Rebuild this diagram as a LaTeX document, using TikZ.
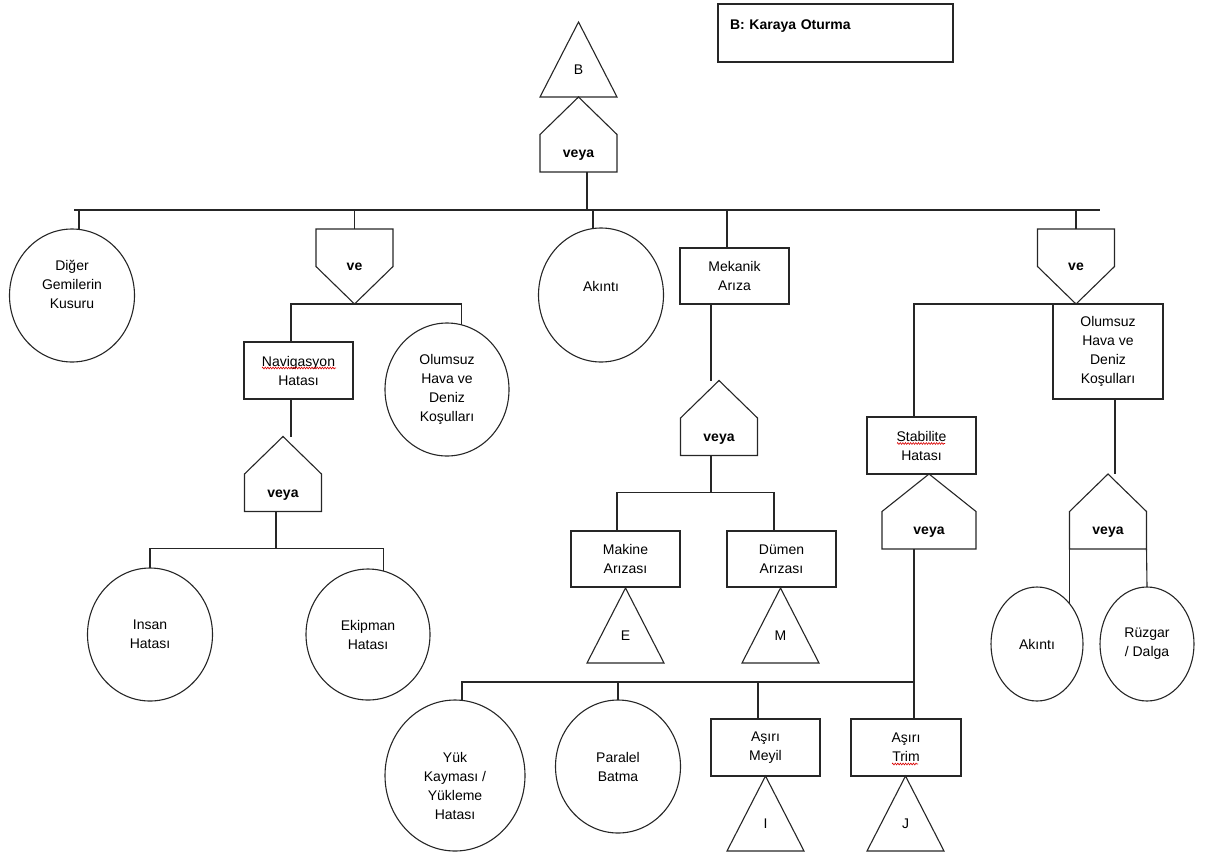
\documentclass[tikz,border=0pt]{standalone}
\usepackage{fontspec}
\setmainfont{Liberation Sans}
\usetikzlibrary{shapes.geometric,decorations.pathmorphing}
\begin{document}
\begin{tikzpicture}[x=1pt,y=-1pt,
  every node/.style={font=\fontsize{14}{19}\selectfont, inner sep=0pt, outer sep=0pt, align=center},
  link/.style={line width=1.1pt, draw=black!85},
  outline/.style={line width=1.1pt, draw=black!85, line join=miter},
  boxnode/.style={rectangle, draw=black!85, line width=1.1pt, minimum width=109pt, minimum height=57pt},
  eventc/.style={ellipse, draw=black!85, line width=1.1pt},
  tri/.style={rectangle, minimum width=77pt, minimum height=75pt, text height=29pt, text depth=0pt},
  orgate/.style={rectangle, minimum width=77pt, minimum height=75pt,
    font=\fontsize{14}{19}\selectfont\bfseries, text height=46pt, text depth=0pt},
  andgate/.style={rectangle, minimum width=77pt, minimum height=75pt,
    font=\fontsize{14}{19}\selectfont\bfseries},
  squiggle/.style={draw=red!85!black, line width=0.6pt, decorate,
    decoration={zigzag, segment length=2.6pt, amplitude=0.9pt}},
]
\useasboundingbox (0,0) rectangle (1209,857);

% legend
\node[draw=black!85, line width=1.1pt, anchor=north west, inner xsep=12pt, inner ysep=0pt,
      text width=211pt, align=left, text height=25pt, text depth=33pt,
      font=\fontsize{14}{19}\selectfont\bfseries] (legend) at (718,4) {B: Karaya Oturma};

% top event and its gate
\node[tri] (tB) at (578.5,59.5) {B};
\node[orgate] (gB) at (578.5,134.5) {veya};

% first level
\node[eventc, minimum width=125pt, minimum height=133pt, text depth=22pt] (dig) at (72,295.5) {Diğer\\Gemilerin\\Kusuru};
\node[andgate] (gL) at (354.5,266.5) {ve};
\node[eventc, minimum width=125pt, minimum height=134pt, text depth=18pt] (akt1) at (601,295) {Akıntı};
\node[boxnode, minimum height=56pt] (mek) at (734.5,276) {Mekanik\\Arıza};
\node[andgate] (gR) at (1076,266.5) {ve};

% navigation branch
\node[boxnode] (nav) at (298.5,370.5) {Navigasyon\\Hatası};
\node[eventc, minimum width=124pt, minimum height=133pt] (olC) at (447,389.5) {Olumsuz\\Hava ve\\Deniz\\Koşulları};
\node[orgate] (gN) at (283,474) {veya};
\node[eventc, minimum width=125pt, minimum height=133pt] (ins) at (150,634.5) {Insan\\Hatası};
\node[eventc, minimum width=124pt, minimum height=131pt] (eki) at (368,634.5) {Ekipman\\Hatası};

% mechanical branch
\node[orgate] (gMk) at (719,418) {veya};
\node[boxnode, minimum height=56pt] (mak) at (625.5,559) {Makine\\Arızası};
\node[boxnode, minimum height=56pt] (dum) at (781.5,559) {Dümen\\Arızası};
\node[tri] (tE) at (625.5,625.5) {E};
\node[tri] (tM) at (780.5,625.5) {M};

% weather / stability branch
\node[boxnode, minimum width=110pt, minimum height=95pt] (olB) at (1108,351.5) {Olumsuz\\Hava ve\\Deniz\\Koşulları};
\node[boxnode] (stab) at (921.5,445.5) {Stabilite\\Hatası};
\node[orgate, minimum width=94pt] (gS) at (929,511.5) {veya};
\node[orgate] (gO) at (1108,511.5) {veya};
\node[eventc, minimum width=92pt, minimum height=114pt] (akt2) at (1037,644) {Akıntı};
\node[eventc, minimum width=94pt, minimum height=114pt] (ruz) at (1147,644) {Rüzgar\\/ Dalga};

% stability causes
\node[eventc, minimum width=140pt, minimum height=151pt, text height=88pt] (yuk) at (455,775.5) {Yük\\Kayması /\\Yükleme\\Hatası};
\node[eventc, minimum width=125pt, minimum height=133pt] (par) at (618,766.5) {Paralel\\Batma};
\node[boxnode] (mey) at (765.5,747.5) {Aşırı\\Meyil};
\node[boxnode, minimum width=110pt] (trim) at (906,747.5) {Aşırı\\Trim};
\node[tri] (tI) at (765.5,813.5) {I};
\node[tri] (tJ) at (905.5,813.5) {J};

% outlines of transfer triangles and gates
\foreach \t in {tB,tE,tM,tI,tJ}
  \draw[outline] (\t.south west) -- (\t.north) -- (\t.south east) -- cycle;
\foreach \g in {gB,gN,gMk,gS,gO}
  \draw[outline] (\g.south west) -- (\g.west) -- (\g.north) -- (\g.east) -- (\g.south east) -- cycle;
\foreach \g in {gL,gR}
  \draw[outline] (\g.north west) -- (\g.west) -- (\g.south) -- (\g.east) -- (\g.north east) -- cycle;

% main bus under the top gate
\coordinate (busL) at (74,210);
\coordinate (busR) at (1100,210);
\draw[link] (busL) -- (busR);
\draw[link] ([xshift=8.5pt]gB.south) -- ([xshift=8.5pt]gB.south |- busL);
\draw[link] ([xshift=7pt]dig.north) -- ([xshift=7pt]dig.north |- busL);
\draw[link] (gL.north) -- (gL.north |- busL);
\draw[link] ([xshift=-8pt]akt1.north) -- ([xshift=-8pt]akt1.north |- busL);
\draw[link] ([xshift=-7.5pt]mek.north) -- ([xshift=-7.5pt]mek.north |- busL);
\draw[link] (gR.north) -- (gR.north |- busL);

% left AND gate
\draw[link] ([xshift=-7.5pt]nav.north) |- (olC.77 |- gL.south) -- (olC.77);
\draw[link] ([xshift=-7.5pt]nav.south) -- ([xshift=-7.5pt]nav.south |- gN.north);
\coordinate (jN) at ([xshift=-7pt,yshift=-37pt]gN.south);
\draw[link] ([xshift=-7pt]gN.south) -- (jN);
\draw[link] (ins.north) |- (jN) -| (eki.76);

% mechanical failure
\draw[link] ([xshift=-23.5pt]mek.south) -- ([xshift=-23.5pt]mek.south |- gMk.north);
\coordinate (jMk) at ([xshift=-8pt,yshift=-37pt]gMk.south);
\draw[link] ([xshift=-8pt]gMk.south) -- (jMk);
\draw[link] ([xshift=-8.5pt]mak.north) |- (jMk) -| ([xshift=-7.5pt]dum.north);

% right AND gate
\draw[link] ([xshift=-7.5pt]stab.north) |- (gR.south);
\draw[link] ([xshift=7pt]olB.south) -- ([xshift=7pt]olB.south |- gO.north);
\draw[link] (gO.south west) -- (gO.south west |- akt2.52);
\draw[link] (gO.south east) -- (ruz.north);

% stability failure
\coordinate (jS) at ([xshift=-15pt,yshift=-133pt]gS.south);
\draw[link] ([xshift=-15pt]gS.south) -- ([xshift=8pt]trim.north);
\draw[link] ([xshift=7pt]yuk.north) |- (jS);
\draw[link] (par.north) -- (par.north |- jS);
\draw[link] ([xshift=-7.5pt]mey.north) -- ([xshift=-7.5pt]mey.north |- jS);

% spell-check underlines
\draw[squiggle] ([xshift=-36.5pt,yshift=2.5pt]nav.center) -- ([xshift=37.5pt,yshift=2.5pt]nav.center);
\draw[squiggle] ([xshift=-24.5pt,yshift=2pt]stab.center) -- ([xshift=23.5pt,yshift=2pt]stab.center);
\draw[squiggle] ([xshift=-14pt,yshift=-16.5pt]trim.center) -- ([xshift=12pt,yshift=-16.5pt]trim.center);
\end{tikzpicture}
\end{document}
